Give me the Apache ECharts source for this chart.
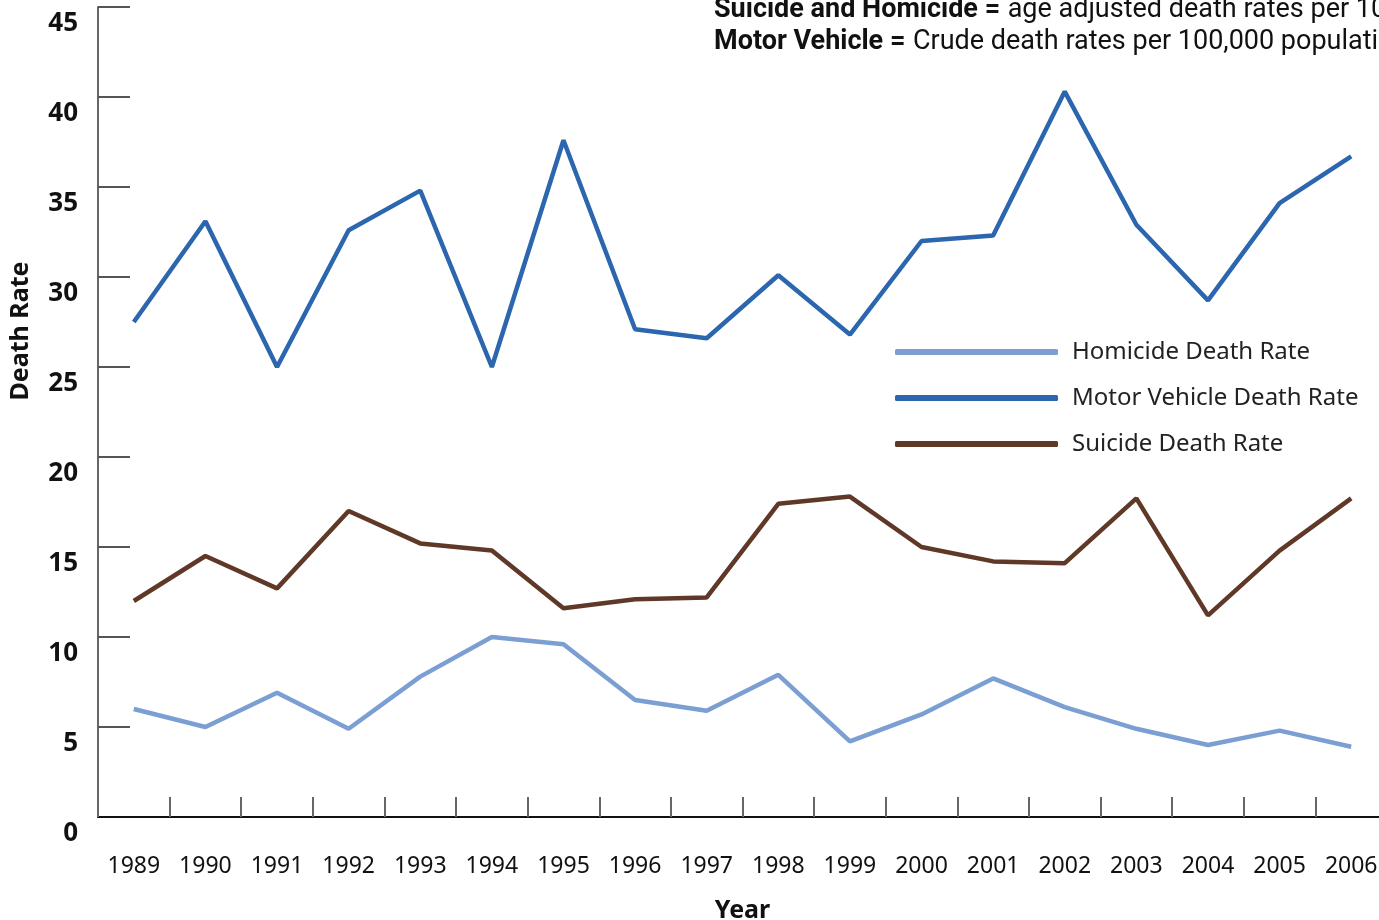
<!DOCTYPE html>
<html>
<head>
<meta charset="utf-8">
<script src="https://cdn.jsdelivr.net/npm/echarts@6/dist/echarts.min.js"></script>
<style>
html,body{margin:0;padding:0;background:#fff;}
#chart{width:1379px;height:920px;}
</style>
</head>
<body>
<div id="chart"></div>
<script>
const years = ['1989','1990','1991','1992','1993','1994','1995','1996','1997','1998','1999','2000','2001','2002','2003','2004','2005','2006'];
const homicide = [6.0, 5.0, 6.9, 4.9, 7.8, 10.0, 9.6, 6.5, 5.9, 7.9, 4.2, 5.7, 7.7, 6.1, 4.9, 4.0, 4.8, 3.9];
const motorVehicle = [27.5, 33.1, 25.0, 32.6, 34.8, 25.0, 37.6, 27.1, 26.6, 30.1, 26.8, 32.0, 32.3, 40.3, 32.9, 28.7, 34.1, 36.7];
const suicide = [12.0, 14.5, 12.7, 17.0, 15.2, 14.8, 11.6, 12.1, 12.2, 17.4, 17.8, 15.0, 14.2, 14.1, 17.7, 11.2, 14.8, 17.7];
const seriesNames = ['Homicide Death Rate', 'Motor Vehicle Death Rate', 'Suicide Death Rate'];
const yTicks = {min: 0, max: 45, interval: 5};

const FONT = 'Noto Sans';
const chart = echarts.init(document.getElementById('chart'));
chart.setOption({
  animation: false,
  backgroundColor: '#ffffff',
  title: {
    left: 709, top: -11,
    text: '{b|Suicide and Homicide =} {r|age adjusted death rates per 100,000 population}\n{b|Motor Vehicle =} {r|Crude death rates per 100,000 population}',
    textStyle: {
      fontSize: 27, lineHeight: 32, fontWeight: 'normal',
      rich: {
        b: {fontFamily: 'Roboto', fontWeight: 'bold', fontSize: 27, color: '#111', lineHeight: 32},
        r: {fontFamily: 'Roboto', fontWeight: 'normal', fontSize: 27, color: '#111', lineHeight: 32}
      }
    }
  },
  legend: {
    orient: 'vertical',
    left: 890, top: 335,
    icon: 'roundRect',
    itemWidth: 163, itemHeight: 6,
    itemGap: 22,
    data: seriesNames,
    textStyle: {fontFamily: FONT, fontSize: 24, color: '#222', padding: [0, 0, 0, 9]}
  },
  graphic: [{
    type: 'text',
    x: 21, y: 331,
    rotation: Math.PI / 2,
    style: {text: 'Death Rate', fontFamily: FONT, fontSize: 25, fontWeight: 'bold', fill: '#111', align: 'center', verticalAlign: 'middle'}
  }],
  grid: {left: 98, top: 7, width: 1289, height: 810, containLabel: false, outerBoundsMode: 'none'},
  xAxis: {
    type: 'category',
    z: 2,
    data: years,
    boundaryGap: true,
    name: 'Year',
    nameLocation: 'middle',
    nameGap: 81,
    nameTextStyle: {fontFamily: FONT, fontSize: 25, fontWeight: 'bold', color: '#111'},
    axisLine: {show: true, lineStyle: {color: '#111', width: 2}},
    axisTick: {show: true, interval: 0, inside: true, length: 20, lineStyle: {color: '#666', width: 2}},
    axisLabel: {fontFamily: FONT, fontSize: 23, color: '#111', margin: 38}
  },
  yAxis: {
    type: 'value',
    z: 1,
    min: yTicks.min, max: yTicks.max, interval: yTicks.interval,
    axisLine: {show: true, lineStyle: {color: '#666', width: 2}},
    axisTick: {show: true, inside: true, length: 32, lineStyle: {color: '#555', width: 2}},
    splitLine: {show: false},
    axisLabel: {fontFamily: FONT, fontSize: 26, fontWeight: 'bold', color: '#111', margin: 20, verticalAlign: 'top', padding: [4, 0, 0, 0]}
  },
  series: [
    {name: seriesNames[0], type: 'line', data: homicide, symbol: 'none', lineStyle: {color: '#7b9fd3', width: 4.5}, itemStyle: {color: '#7b9fd3'}},
    {name: seriesNames[1], type: 'line', data: motorVehicle, symbol: 'none', lineStyle: {color: '#2b66ae', width: 4.5}, itemStyle: {color: '#2b66ae'}},
    {name: seriesNames[2], type: 'line', data: suicide, symbol: 'none', lineStyle: {color: '#5f3828', width: 4.5}, itemStyle: {color: '#5f3828'}}
  ]
});
</script>
</body>
</html>
